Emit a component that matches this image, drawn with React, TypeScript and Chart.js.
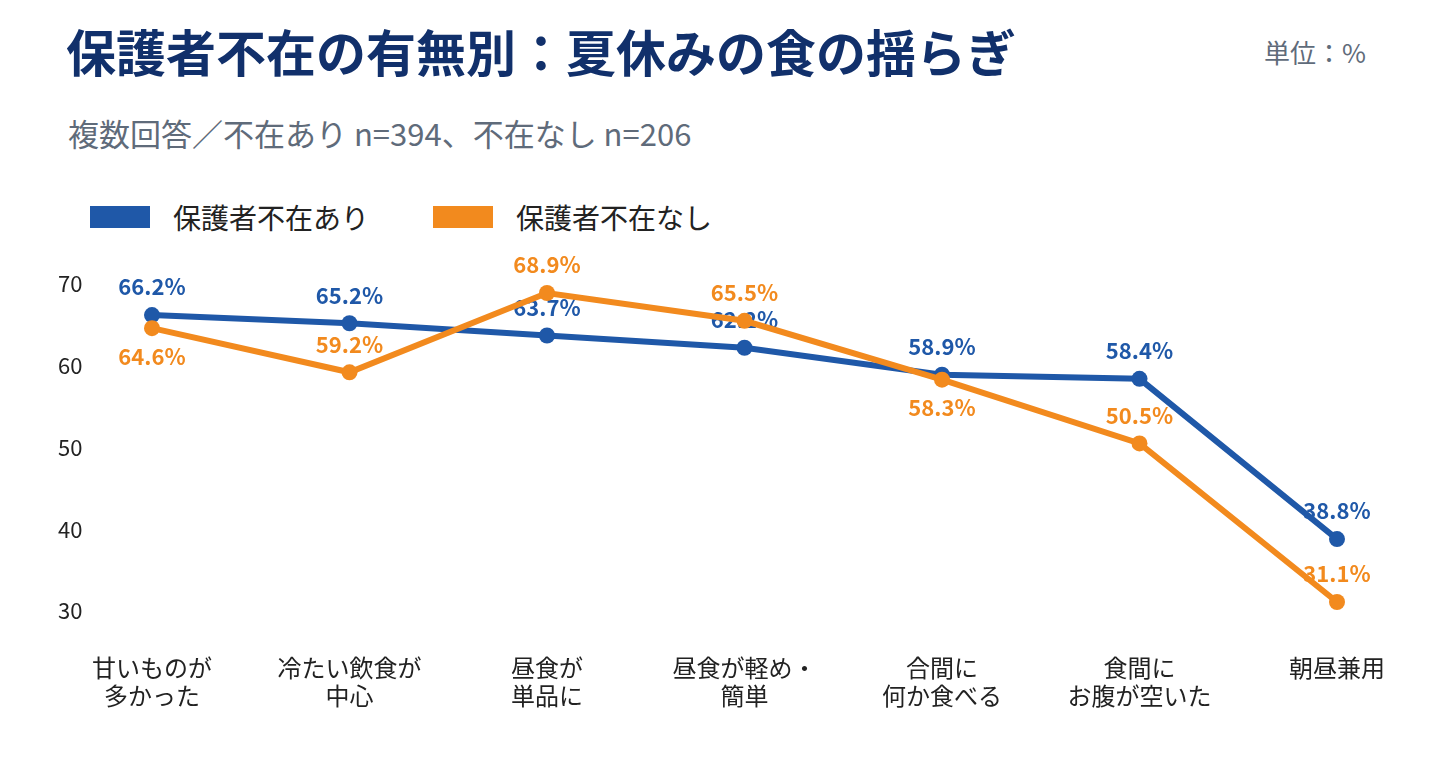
import Chart from 'chart.js/auto';
import { useEffect, useRef } from 'react';

const categories: string[][] = [
  ['甘いものが', '多かった'],
  ['冷たい飲食が', '中心'],
  ['昼食が', '単品に'],
  ['昼食が軽め・', '簡単'],
  ['合間に', '何か食べる'],
  ['食間に', 'お腹が空いた'],
  ['朝昼兼用'],
];

const absentValues = [66.2, 65.2, 63.7, 62.2, 58.9, 58.4, 38.8];
const presentValues = [64.6, 59.2, 68.9, 65.5, 58.3, 50.5, 31.1];

const yTicks = [30, 40, 50, 60, 70];

// label placement per point (true = under the point)
const absentLabelBelow = [false, false, false, false, false, false, false];
const presentLabelBelow = [true, false, false, false, true, false, false];

const BLUE = '#1f58a8';
const ORANGE = '#f28a1e';
const FONT = '"Noto Sans CJK JP", "Noto Sans", sans-serif';

const valueLabels = {
  id: 'valueLabels',
  afterDatasetDraw(chart: Chart, args: any) {
    const ds: any = chart.data.datasets[args.index];
    const below: boolean[] = ds.labelBelow || [];
    const ctx = chart.ctx;
    ctx.save();
    ctx.font = `bold 22px ${FONT}`;
    ctx.fillStyle = ds.borderColor;
    ctx.textAlign = 'center';
    ctx.textBaseline = 'middle';
    args.meta.data.forEach((pt: any, i: number) => {
      const v = ds.data[i] as number;
      const y = pt.y + (below[i] ? 28 : -28);
      ctx.fillText(`${v.toFixed(1)}%`, pt.x, y);
    });
    ctx.restore();
  },
};

const LineChart = () => {
  const chartRef = useRef<HTMLCanvasElement | null>(null);

  useEffect(() => {
    if (!chartRef.current) return;
    const ctx = chartRef.current.getContext('2d');
    if (!ctx) return;

    const chart = new Chart(ctx, {
      type: 'line',
      data: {
        labels: categories,
        datasets: [
          {
            label: '保護者不在あり',
            data: absentValues,
            borderColor: BLUE,
            backgroundColor: BLUE,
            pointBackgroundColor: BLUE,
            borderWidth: 6,
            pointRadius: 8,
            pointBorderWidth: 0,
            order: 1,
            labelBelow: absentLabelBelow,
          } as any,
          {
            label: '保護者不在なし',
            data: presentValues,
            borderColor: ORANGE,
            backgroundColor: ORANGE,
            pointBackgroundColor: ORANGE,
            borderWidth: 6,
            pointRadius: 8,
            pointBorderWidth: 0,
            order: 0,
            labelBelow: presentLabelBelow,
          } as any,
        ],
      },
      options: {
        responsive: true,
        maintainAspectRatio: false,
        animation: false,
        layout: { padding: { top: 44, right: 94, left: 58, bottom: 0 } },
        plugins: {
          legend: { display: false },
          tooltip: { enabled: false },
        },
        scales: {
          x: {
            offset: false,
            grid: { display: false, drawTicks: false },
            border: { display: false },
            ticks: {
              color: '#222',
              padding: 42,
              maxRotation: 0,
              autoSkip: false,
              font: { family: FONT, size: 24, lineHeight: 1.2 },
            },
            afterFit: (axis: any) => {
              axis.height = 146;
            },
          },
          y: {
            min: yTicks[0],
            max: yTicks[yTicks.length - 1],
            grid: { display: false, drawTicks: false },
            border: { display: false },
            afterBuildTicks: (axis: any) => {
              axis.ticks = yTicks.map((v) => ({ value: v }));
            },
            ticks: {
              color: '#222',
              padding: 0,
              crossAlign: 'far',
              font: { family: FONT, size: 22 },
            },
            afterFit: (axis: any) => {
              axis.width = 94;
            },
          },
        },
      },
      plugins: [valueLabels],
    });

    return () => {
      chart.destroy();
    };
  }, []);

  return <canvas ref={chartRef}></canvas>;
};

const LegendItem = ({ color, text, left }: { color: string; text: string; left: number }) => (
  <div style={{ position: 'absolute', left, top: 200, height: 34, display: 'flex', alignItems: 'center' }}>
    <div style={{ width: 60, height: 22, background: color }} />
    <span style={{ marginLeft: 23, fontSize: 28, color: '#222', lineHeight: '34px' }}>{text}</span>
  </div>
);

export default function App() {
  return (
    <div
      style={{
        position: 'absolute',
        left: 0,
        top: 0,
        width: 1431,
        height: 757,
        background: '#fff',
        fontFamily: FONT,
        overflow: 'hidden',
      }}
    >
      <div
        style={{
          position: 'absolute',
          left: 66,
          top: 23,
          fontSize: 50,
          lineHeight: '54px',
          fontWeight: 700,
          color: '#11306b',
          whiteSpace: 'nowrap',
        }}
      >
        保護者不在の有無別：夏休みの食の揺らぎ
      </div>
      <div
        style={{
          position: 'absolute',
          right: 65,
          top: 36,
          fontSize: 26,
          lineHeight: '32px',
          color: '#5f6b7a',
        }}
      >
        単位：%
      </div>
      <div
        style={{
          position: 'absolute',
          left: 68,
          top: 115,
          fontSize: 31,
          lineHeight: '36px',
          color: '#5f6b7a',
          whiteSpace: 'nowrap',
        }}
      >
        複数回答／不在あり n=394、不在なし n=206
      </div>
      <LegendItem color={BLUE} text="保護者不在あり" left={90} />
      <LegendItem color={ORANGE} text="保護者不在なし" left={433} />
      <div style={{ position: 'absolute', left: 0, top: 240, width: 1431, height: 517 }}>
        <LineChart />
      </div>
    </div>
  );
}
